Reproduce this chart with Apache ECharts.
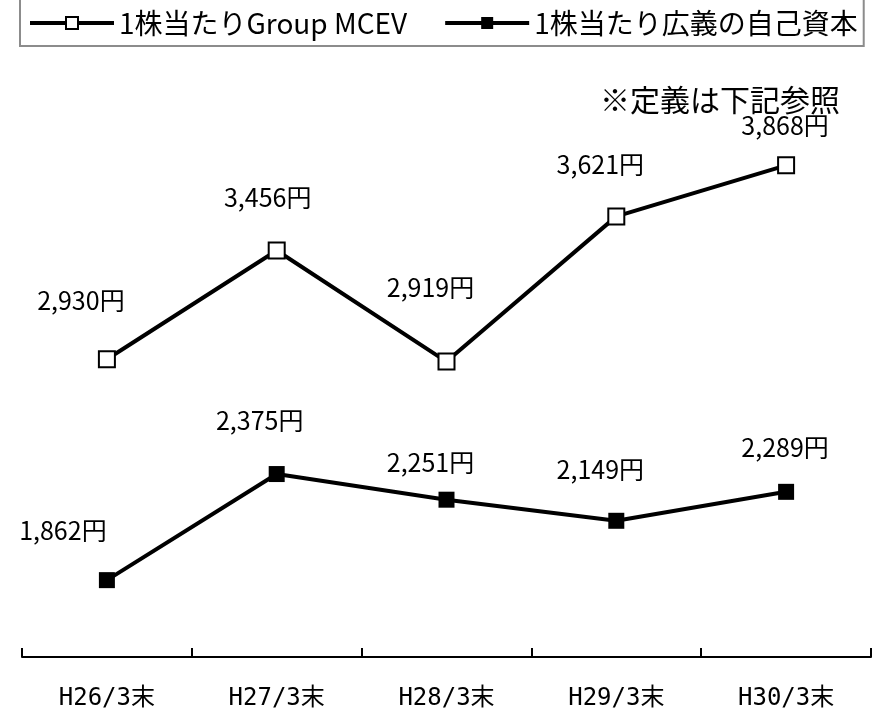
<!DOCTYPE html>
<html>
<head>
<meta charset="utf-8">
<script src="https://cdn.jsdelivr.net/npm/echarts@6/dist/echarts.min.js"></script>
<style>
html,body{margin:0;padding:0;background:#fff;}
#chart{width:874px;height:715px;}
</style>
</head>
<body>
<div id="chart"></div>
<script>
var categories = ['H26/3末', 'H27/3末', 'H28/3末', 'H29/3末', 'H30/3末'];
var mcevName = '1株当たりGroup MCEV';
var equityName = '1株当たり広義の自己資本';
var mcevValues = [2930, 3456, 2919, 3621, 3868];
var equityValues = [1862, 2375, 2251, 2149, 2289];
var noteText = '※定義は下記参照';

// label placement (styling only)
var mcevLabelShift = [[-26, -59], [-9, -53], [-16, -74], [-16, -52], [-1, -40]];
var equityLabelShift = [[-44, -50], [-17, -54], [-16, -37], [-16, -51], [-1, -44]];

var JP = '"Noto Sans CJK JP", "Noto Sans", sans-serif';

function fmt(v) {
  return String(v).replace(/\B(?=(\d{3})+(?!\d))/g, ',') + '円';
}
function withLabels(values, shifts) {
  return values.map(function (v, i) {
    return { value: v, label: { offset: shifts[i] } };
  });
}

var chart = echarts.init(document.getElementById('chart'), null, { renderer: 'canvas' });
chart.setOption({
  animation: false,
  backgroundColor: '#fff',
  legend: {
    left: 20,
    top: -2,
    orient: 'horizontal',
    itemWidth: 84,
    itemHeight: 15,
    itemGap: 36,
    padding: [11, 6, 9, 8],
    borderColor: '#8c8c8c',
    borderWidth: 2,
    lineStyle: { width: 4, color: '#000' },
    textStyle: { fontFamily: JP, fontSize: 28, color: '#000' },
    data: [mcevName, equityName]
  },
  graphic: [{
    type: 'text',
    right: 34,
    top: 85,
    style: { text: noteText, font: '30px ' + JP, fill: '#000' }
  }],
  grid: { left: 22, right: 3, top: 138, bottom: 60 },
  xAxis: {
    type: 'category',
    data: categories,
    boundaryGap: true,
    offset: 2,
    axisLine: { show: true, lineStyle: { color: '#000', width: 2 } },
    axisTick: { show: true, interval: 0, alignWithLabel: false, inside: true, length: 9, lineStyle: { color: '#000', width: 2 } },
    axisLabel: {
      margin: 30,
      fontFamily: '"DejaVu Sans Mono", "Noto Sans CJK JP", monospace',
      fontSize: 24,
      color: '#000'
    }
  },
  yAxis: {
    type: 'value',
    min: 1500,
    max: 4000,
    show: false
  },
  series: [{
    name: mcevName,
    type: 'line',
    data: withLabels(mcevValues, mcevLabelShift),
    symbol: 'rect',
    symbolSize: 16,
    lineStyle: { color: '#000', width: 4 },
    itemStyle: { color: '#fff', borderColor: '#000', borderWidth: 2 },
    label: {
      show: true,
      position: 'inside',
      formatter: function (p) { return fmt(p.value); },
      fontFamily: JP,
      fontSize: 25,
      color: '#000'
    },
    z: 3
  }, {
    name: equityName,
    type: 'line',
    data: withLabels(equityValues, equityLabelShift),
    symbol: 'rect',
    symbolSize: 16,
    lineStyle: { color: '#000', width: 4 },
    itemStyle: { color: '#000', borderColor: '#000', borderWidth: 0 },
    label: {
      show: true,
      position: 'inside',
      formatter: function (p) { return fmt(p.value); },
      fontFamily: JP,
      fontSize: 25,
      color: '#000'
    },
    z: 3
  }]
});
</script>
</body>
</html>
